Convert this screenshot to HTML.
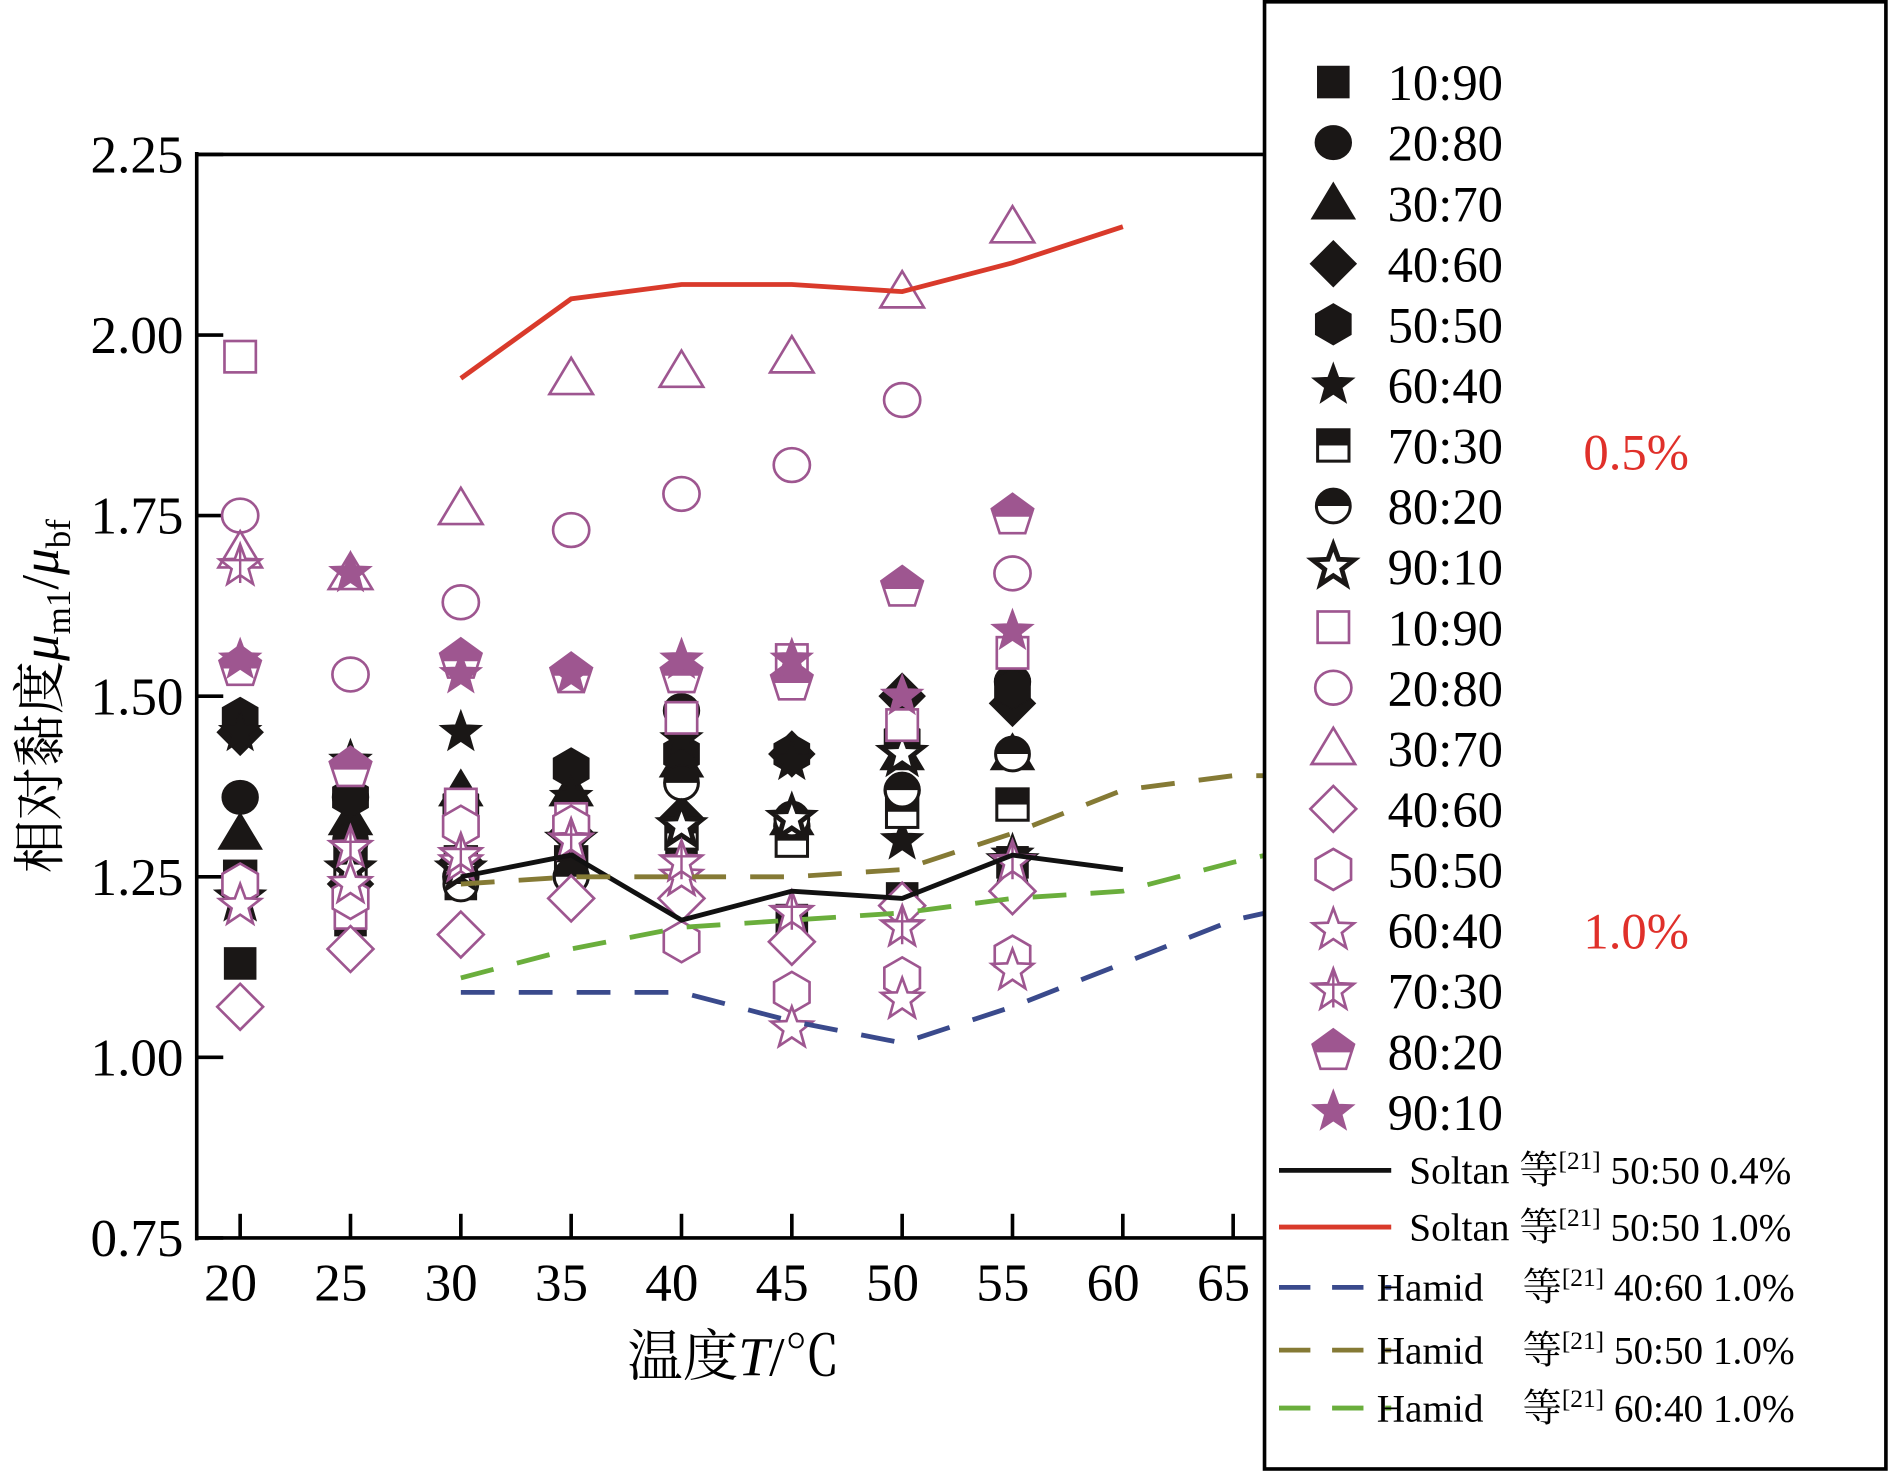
<!DOCTYPE html>
<html><head><meta charset="utf-8"><style>
html,body{margin:0;padding:0;background:#fff;}
svg{display:block;font-family:"Liberation Serif","Noto Serif CJK SC",serif;}
</style></head><body>
<svg id="chart" width="1892" height="1472" viewBox="0 0 1568 1220" xmlns="http://www.w3.org/2000/svg">
<g id="plot"></g>
<g id="legend"></g>
</svg>
<script>
const temps=[20,25,30,35,40,45,50,55];
const b1090=[1.13,1.19,1.24,1.26,1.30,1.19,1.22,1.27];
const b2080=[1.36,1.36,1.25,1.25,1.48,1.32,1.37,1.52];
const b3070=[1.31,1.33,1.37,1.37,1.41,1.33,1.42,1.42];
const b4060=[1.45,1.24,1.27,1.31,1.33,1.42,1.50,1.49];
const b5050=[1.47,1.36,1.35,1.40,1.42,1.42,1.44,1.51];
const b6040=[1.45,1.41,1.45,1.36,1.44,1.41,1.30,1.28];
const b7030=[1.25,1.27,1.27,1.27,1.31,1.30,1.34,1.35];
const b8020=[1.23,1.30,1.24,1.25,1.38,1.33,1.37,1.42];
const b9010=[1.22,1.26,1.26,1.30,1.32,1.33,1.42,1.27];
const p1090=[1.97,1.20,1.35,1.33,1.47,1.55,1.46,1.56];
const p2080=[1.75,1.53,1.63,1.73,1.78,1.82,1.91,1.67];
const p3070=[1.70,1.67,1.76,1.94,1.95,1.97,2.06,2.15];
const p4060=[1.07,1.15,1.17,1.22,1.22,1.16,1.21,1.23];
const p5050=[1.24,1.22,1.32,1.32,1.16,1.09,1.11,1.14];
const p6040=[1.21,1.24,1.27,1.30,1.25,1.04,1.08,1.12];
const p7030=[1.68,1.29,1.28,1.30,1.27,1.20,1.18,1.27];
const p8020=[1.54,1.40,1.55,1.53,1.53,1.52,1.65,1.75];
const p9010=[1.55,1.67,1.53,1.53,1.55,1.55,1.50,1.59];
const lineT=[30,35,40,45,50,55,60];
const soltan04=[1.25,1.28,1.19,1.23,1.22,1.28,1.26];
const soltan10=[1.94,2.05,2.07,2.07,2.06,2.10,2.15];
const hamidT=[30,35,40,45,50,55,60,65,66.5];
const hamid4060=[1.09,1.09,1.09,1.05,1.02,1.07,1.13,1.19,1.20];
const hamid5050=[1.24,1.25,1.25,1.25,1.26,1.31,1.37,1.39,1.39];
const hamid6040=[1.11,1.15,1.18,1.19,1.20,1.22,1.23,1.27,1.28];
const xTicks=[20,25,30,35,40,45,50,55,60,65];
const yTicks=[0.75,1.00,1.25,1.50,1.75,2.00,2.25];

const NS="http://www.w3.org/2000/svg";
const X=t=>199+(t-20)*(1022-199)/45;
const Y=v=>1026-(v-0.75)*(898/1.5);
const plot=document.getElementById('plot'), legend=document.getElementById('legend');
function mk(tag,at,parent){const e=document.createElementNS(NS,tag);for(const k in at)e.setAttribute(k,at[k]);parent.appendChild(e);return e;}
const BLK="#1a1716", PUR="#9e5690";
function starPts(cx,cy,R,r){let p=[];for(let i=0;i<10;i++){const a=-Math.PI/2+i*Math.PI/5,rr=i%2?r:R;p.push((cx+rr*Math.cos(a)).toFixed(1)+","+(cy+rr*Math.sin(a)).toFixed(1));}return p.join(" ");}
function polyPts(cx,cy,R,n,rot){let p=[];for(let i=0;i<n;i++){const a=rot+i*2*Math.PI/n;p.push((cx+R*Math.cos(a)).toFixed(1)+","+(cy+R*Math.sin(a)).toFixed(1));}return p.join(" ");}
function marker(kind,cx,cy,col,filled,g){
  const f=filled?col:"#fff", sw=filled?1:2.2, s=col;
  switch(kind){
  case 'square':mk('rect',{x:cx-13,y:cy-13,width:26,height:26,fill:f,stroke:s,'stroke-width':sw},g);break;
  case 'circle':mk('ellipse',{cx,cy,rx:15,ry:14,fill:f,stroke:s,'stroke-width':sw},g);break;
  case 'triangle':mk('polygon',{points:`${cx},${cy-17} ${cx+18},${cy+13} ${cx-18},${cy+13}`,fill:f,stroke:s,'stroke-width':sw},g);break;
  case 'diamond':mk('polygon',{points:`${cx},${cy-19} ${cx+19},${cy} ${cx},${cy+19} ${cx-19},${cy}`,fill:f,stroke:s,'stroke-width':sw},g);break;
  case 'hex':mk('polygon',{points:polyPts(cx,cy,17,6,-Math.PI/2),fill:f,stroke:s,'stroke-width':sw},g);break;
  case 'star':mk('polygon',{points:starPts(cx,cy,18,7.5),fill:f,stroke:s,'stroke-width':sw},g);break;
  case 'halfsq':mk('rect',{x:cx-13,y:cy-13,width:26,height:26,fill:'#fff',stroke:s,'stroke-width':2.5},g);mk('rect',{x:cx-13,y:cy-13,width:26,height:13,fill:s},g);break;
  case 'halfci':mk('circle',{cx,cy,r:14,fill:'#fff',stroke:s,'stroke-width':2.5},g);mk('path',{d:`M${cx-14},${cy} A14,14 0 0 1 ${cx+14},${cy} Z`,fill:s},g);break;
  case 'thickstar':mk('polygon',{points:starPts(cx,cy,18,7.5),fill:'#fff',stroke:s,'stroke-width':4},g);break;
  case 'crossstar':mk('polygon',{points:starPts(cx,cy,18,7.5),fill:'#fff',stroke:s,'stroke-width':2.2},g);mk('path',{d:`M${cx},${cy-18}V${cy+14}M${cx-17},${cy-5}H${cx+17}`,stroke:s,'stroke-width':2},g);break;
  case 'halfpent':{const pts=polyPts(cx,cy,18,5,-Math.PI/2);mk('polygon',{points:pts,fill:'#fff',stroke:s,'stroke-width':2.2},g);
    mk('polygon',{points:`${cx},${cy-18} ${cx+17.1},${cy-5.6} ${cx+15},${cy+1} ${cx-15},${cy+1} ${cx-17.1},${cy-5.6}`,fill:s},g);break;}
  }
}
// axes
const tb=mk('line',{x1:163,y1:128,x2:1048,y2:128,stroke:'#000','stroke-width':3},plot);

const yAxis=mk('line',{x1:163,y1:126,x2:163,y2:1028,stroke:'#000','stroke-width':3},plot);

const xAxis=mk('line',{x1:162,y1:1026,x2:1048,y2:1026,stroke:'#000','stroke-width':3},plot);

yTicks.forEach(v=>{
  mk('line',{x1:163,y1:Y(v),x2:185,y2:Y(v),stroke:'#000','stroke-width':3},plot);
  const t=mk('text',{x:152,y:Y(v)+15,'text-anchor':'end','font-size':44},plot);t.textContent=v.toFixed(2);
  
});
xTicks.forEach(v=>{
  mk('line',{x1:X(v),y1:1026,x2:X(v),y2:1006,stroke:'#000','stroke-width':3},plot);
  const t=mk('text',{x:X(v)-8,y:1078,'text-anchor':'middle','font-size':44},plot);t.textContent=v;
  
});
const xt=mk('text',{x:608,y:1140,'text-anchor':'middle','font-size':46},plot);
xt.innerHTML='温度<tspan font-style="italic">T</tspan>/℃';

const yt=mk('text',{x:0,y:0,'text-anchor':'middle','font-size':44,transform:'translate(48,577) rotate(-90)'},plot);
yt.innerHTML='相对黏度<tspan font-style="italic">μ</tspan><tspan font-size="29" dy="10">m1</tspan><tspan dy="-10">/</tspan><tspan font-style="italic">μ</tspan><tspan font-size="29" dy="10">bf</tspan>';

// clip
const cp=mk('clipPath',{id:'cp'},plot);
mk('rect',{x:163,y:128,width:885,height:898},cp);
function line(ts,vs,col,dash,name){
  const l=mk('polyline',{points:ts.map((t,i)=>X(t).toFixed(1)+','+Y(vs[i]).toFixed(1)).join(' '),fill:'none',stroke:col,'stroke-width':4,'stroke-dasharray':dash||'none','clip-path':'url(#cp)'},plot);
  
  
}
const series=[
 ['square',BLK,1,b1090,'10:90'],['circle',BLK,1,b2080,'20:80'],['triangle',BLK,1,b3070,'30:70'],['diamond',BLK,1,b4060,'40:60'],
 ['hex',BLK,1,b5050,'50:50'],['star',BLK,1,b6040,'60:40'],['halfsq',BLK,1,b7030,'70:30'],['halfci',BLK,1,b8020,'80:20'],['thickstar',BLK,1,b9010,'90:10'],
 ['square',PUR,0,p1090,'10:90'],['circle',PUR,0,p2080,'20:80'],['triangle',PUR,0,p3070,'30:70'],['diamond',PUR,0,p4060,'40:60'],
 ['hex',PUR,0,p5050,'50:50'],['star',PUR,0,p6040,'60:40'],['crossstar',PUR,0,p7030,'70:30'],['halfpent',PUR,0,p8020,'80:20'],['star',PUR,1,p9010,'90:10']
];
series.forEach((s,si)=>{
  const g=mk('g',{},plot);
  
  
  temps.forEach((t,i)=>marker(s[0],X(t),Y(s[3][i]),s[1],s[2],g));
});
line(lineT,soltan04,'#111','','soltan-04-line');
line(lineT,soltan10,'#d93a2b','','soltan-10-line');
line(hamidT,hamid4060,'#3a4a8c','28 20','hamid-4060-line');
line(hamidT,hamid5050,'#857a35','28 20','hamid-5050-line');
line(hamidT,hamid6040,'#6aae3c','28 20','hamid-6040-line');
// legend
const box=mk('rect',{x:1048,y:1.5,width:515,height:1216,fill:'none',stroke:'#000','stroke-width':3},legend);

series.forEach((s,i)=>{
  const cy=68+i*50.2;
  const g=mk('g',{},legend);
  
  
  marker(s[0],1105,cy,s[1],s[2],g);
  const t=mk('text',{x:1150,y:cy+15,'font-size':42},g);t.textContent=s[4];
});
const lines=[['#111','','Soltan 等','50:50 0.4%',970,1168],['#d93a2b','','Soltan 等','50:50 1.0%',1017,1168],
 ['#3a4a8c','26 18','Hamid  等','40:60 1.0%',1067,1141],['#857a35','26 18','Hamid  等','50:50 1.0%',1119,1141],['#6aae3c','26 18','Hamid  等','60:40 1.0%',1167,1141]];
lines.forEach(l=>{
  const g=mk('g',{},legend);
  
  
  mk('line',{x1:1060,y1:l[4],x2:1153,y2:l[4],stroke:l[0],'stroke-width':4,'stroke-dasharray':l[1]||'none'},g);
  const t=mk('text',{x:l[5],y:l[4]+11,'font-size':32.5},g);
  t.innerHTML=l[2].replace('  ','\u00a0\u00a0\u00a0\u00a0')+'<tspan font-size="21" dy="-12">[21]</tspan><tspan dy="12"> '+l[3]+'</tspan>';
});
[['0.5%',375],['1.0%',772]].forEach(a=>{
  const t=mk('text',{x:1356,y:a[1]+14,'text-anchor':'middle','font-size':42,fill:'#e0302a'},legend);t.textContent=a[0];
  
  
});
</script>
</body></html>
